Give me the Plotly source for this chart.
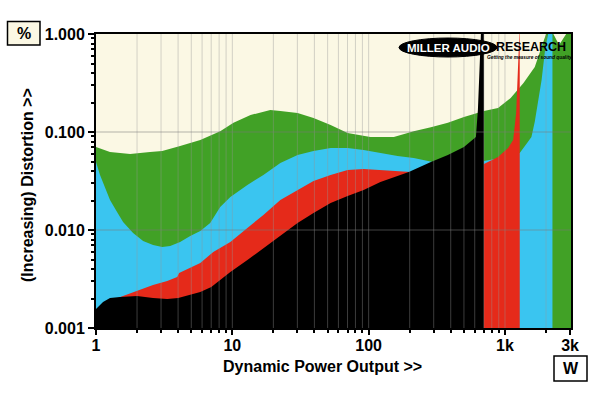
import plotly.graph_objects as go

# ---------------- data ----------------
FLOOR = 0.001  # bottom of the y axis; each area fills down to it

green_w = [1.0, 1.267, 1.78, 2.49, 3.06, 4.14, 5.82, 8.15, 10.2, 13.6, 19.0, 22.5, 30.1, 39.4,
           52.6, 70.1, 103, 153, 214, 286, 381, 500, 612, 701, 889, 1101, 1367, 1654, 1856,
           2001, 2264, 2495, 2810, 3050]
green_pct = [0.0703, 0.0625, 0.0597, 0.0625, 0.0640, 0.0720, 0.0829, 0.102, 0.124, 0.149, 0.168,
             0.164, 0.156, 0.139, 0.118, 0.0977, 0.0889, 0.0889, 0.102, 0.112, 0.124, 0.142, 0.156,
             0.164, 0.176, 0.222, 0.316, 0.461, 0.737, 1.0, 1.0, 0.772, 1.0, 1.0]

cyan_w = [1.0, 1.07, 1.126, 1.267, 1.427, 1.58, 1.871, 2.216, 2.623, 3.06, 3.50, 4.14, 4.91, 5.82,
          6.88, 7.37, 8.15, 9.67, 12.9, 16.9, 22.5, 30.1, 39.4, 52.6, 70.1, 91.9, 122, 163, 214,
          296, 474, 701, 933, 1283, 1471, 1563, 1654, 1747, 1856, 1968, 2071, 2217]
cyan_pct = [0.0494, 0.0364, 0.0302, 0.0202, 0.0153, 0.0121, 0.00932, 0.00773, 0.00703, 0.00671,
            0.00687, 0.00755, 0.00869, 0.00977, 0.0118, 0.0138, 0.0172, 0.0217, 0.0288, 0.0364,
            0.0483, 0.0582, 0.0640, 0.0687, 0.0687, 0.0655, 0.0610, 0.0569, 0.0543, 0.0494,
            0.0483, 0.0506, 0.0543, 0.0610, 0.0791, 0.0889, 0.127, 0.212, 0.340, 0.687, 1.0, 1.0]

red_w = [1.0, 1.267, 1.50, 2.0, 2.62, 3.33, 3.94, 4.07, 4.91, 5.82, 7.25, 9.67, 12.9, 16.9, 22.5,
         30.1, 39.4, 52.6, 70.1, 91.9, 122, 163, 204, 339, 565, 701, 889, 1054, 1148, 1208, 1250,
         1266, 1275]
red_pct = [0.0015, 0.0019, 0.00207, 0.00239, 0.00275, 0.00302, 0.00331, 0.00364, 0.00410, 0.00461,
           0.00597, 0.00755, 0.0105, 0.0142, 0.0202, 0.0256, 0.0316, 0.0364, 0.0409, 0.0419,
           0.0409, 0.0400, 0.0391, 0.0409, 0.0440, 0.0472, 0.0556, 0.0687, 0.0829, 0.156, 0.506,
           1.0, 1.0]

black_w = [1.0, 1.126, 1.267, 1.50, 2.0, 2.62, 3.33, 4.01, 4.91, 5.82, 7.01, 9.67, 12.9, 16.9,
           22.5, 30.1, 39.4, 52.6, 70.1, 91.9, 122, 197, 286, 381, 500, 612, 633, 655, 666, 695]
black_pct = [0.00156, 0.00184, 0.00202, 0.00207, 0.00212, 0.00202, 0.00198, 0.00202, 0.00217,
             0.00233, 0.00262, 0.00373, 0.00494, 0.00655, 0.00889, 0.0118, 0.0149, 0.0189,
             0.0222, 0.0256, 0.0309, 0.0391, 0.0494, 0.0582, 0.0703, 0.0889, 0.168, 0.543, 1.0,
             1.0]

# where each sweep ends (vertical drop to the floor)
green_end, cyan_end, red_end, black_end = 3050, 2230, 1283, 701

x_tickvals = [1, 10, 100, 1000, 3000]
x_ticktext = ["1", "10", "100", "1k", "3k"]
x_minor = [2, 3, 4, 5, 6, 7, 8, 9, 20, 30, 40, 50, 60, 70, 80, 90,
           200, 300, 400, 500, 600, 700, 800, 900, 2000]
y_tickvals = [1.0, 0.1, 0.01, 0.001]
y_ticktext = ["1.000", "0.100", "0.010", "0.001"]
y_minor = [0.002, 0.003, 0.004, 0.005, 0.006, 0.007, 0.008, 0.009,
           0.02, 0.03, 0.04, 0.05, 0.06, 0.07, 0.08, 0.09,
           0.2, 0.3, 0.4, 0.5, 0.6, 0.7, 0.8, 0.9]

# ---------------- style ----------------
CREAM = "#fbf8e4"
COLORS = {"green": "#41a126", "cyan": "#3ac5f0", "red": "#e52a1a", "black": "#000000"}
FONT = "Liberation Sans, Arial, sans-serif"

fig = go.Figure()


def area(ws, ps, end, color, name):
    xs = [ws[0]] + ws + [end, end]
    ys = [FLOOR] + ps + [ps[-1], FLOOR]
    fig.add_trace(go.Scatter(x=xs, y=ys, mode="lines", fill="toself", fillcolor=color,
                             line=dict(width=0, color=color), name=name, hoverinfo="skip",
                             showlegend=False))


area(green_w, green_pct, green_end, COLORS["green"], "green")
area(cyan_w, cyan_pct, cyan_end, COLORS["cyan"], "cyan")
area(red_w, red_pct, red_end, COLORS["red"], "red")
area(black_w, black_pct, black_end, COLORS["black"], "black")

# grid drawn above the fills, as in the reference
shapes = []
for v in x_minor + x_tickvals[1:4]:
    shapes.append(dict(type="line", xref="x", yref="paper", x0=v, x1=v, y0=0, y1=1,
                       line=dict(color="rgba(150,150,150,0.4)", width=1), layer="above"))
for v in y_tickvals[1:3]:
    shapes.append(dict(type="line", xref="paper", yref="y", x0=0, x1=1, y0=v, y1=v,
                       line=dict(color="rgba(120,120,120,0.55)", width=1), layer="above"))

# pixel helpers for decorations
L, R, T, B = 96, 29, 34, 65
PW, PH = 600 - L - R, 393 - T - B


def px(p):
    return (p - L) / PW


def py(p):
    return (393 - B - p) / PH


# unit boxes
shapes.append(dict(type="rect", xref="paper", yref="paper", x0=px(7.5), x1=px(40), y0=py(45),
                   y1=py(21.5), fillcolor=CREAM, line=dict(color="black", width=1.5)))
shapes.append(dict(type="rect", xref="paper", yref="paper", x0=px(554), x1=px(587), y0=py(381),
                   y1=py(356), fillcolor="white", line=dict(color="black", width=1.5)))
# logo ellipse
shapes.append(dict(type="circle", xref="paper", yref="paper", x0=px(399), x1=px(497), y0=py(57),
                   y1=py(38), fillcolor="black", line=dict(color="black", width=1), layer="above"))


def note(text, x, y, size, color="black", angle=0, italic=False):
    return dict(text=text, x=px(x), y=py(y), xref="paper", yref="paper", showarrow=False,
                xanchor="center", yanchor="middle", textangle=angle,
                font=dict(family=FONT, size=size, color=color, weight="bold",
                          style="italic" if italic else "normal"))


annotations = [
    note("%", 23.7, 33.5, 16),
    note("W", 570.5, 368.5, 16),
    note("Dynamic Power Output >>", 322, 366, 16),
    note("(Increasing) Distortion >>", 27, 185, 16, angle=-90),
    note("MILLER AUDIO", 448, 47.5, 11.5, color="white"),
    note("RESEARCH", 531, 46.5, 12.5),
    note("Getting the measure of sound quality", 529, 57.5, 4.8, italic=True),
]

fig.update_layout(
    width=600, height=393,
    margin=dict(l=L, r=R, t=T, b=B, pad=0),
    paper_bgcolor="white", plot_bgcolor=CREAM,
    shapes=shapes, annotations=annotations, showlegend=False,
    font=dict(family=FONT, color="black"),
)
fig.update_xaxes(type="log", range=[0, 3.4843], tickvals=x_tickvals, ticktext=x_ticktext,
                 showgrid=False, zeroline=False, showline=True, linecolor="black", linewidth=2,
                 mirror=True, ticks="outside", ticklen=5, tickwidth=1.5, tickcolor="black",
                 tickfont=dict(family=FONT, size=16, color="black", weight="bold"),
                 ticklabelstandoff=-3,
                 minor=dict(tickvals=x_minor, ticks="outside", ticklen=3, tickcolor="black",
                            showgrid=False),
                 layer="above traces")
fig.update_yaxes(type="log", range=[-3, 0], tickvals=y_tickvals, ticktext=y_ticktext,
                 showgrid=False, zeroline=False, showline=True, linecolor="black", linewidth=2,
                 mirror=True, ticks="outside", ticklen=6, tickwidth=1.5, tickcolor="black",
                 tickfont=dict(family=FONT, size=16, color="black", weight="bold"),
                 minor=dict(tickvals=y_minor, ticks="outside", ticklen=3, tickcolor="black",
                            showgrid=False),
                 layer="above traces")

fig.write_html("out.html", config={"displayModeBar": False},
               post_script="document.body.style.margin='0px';")
